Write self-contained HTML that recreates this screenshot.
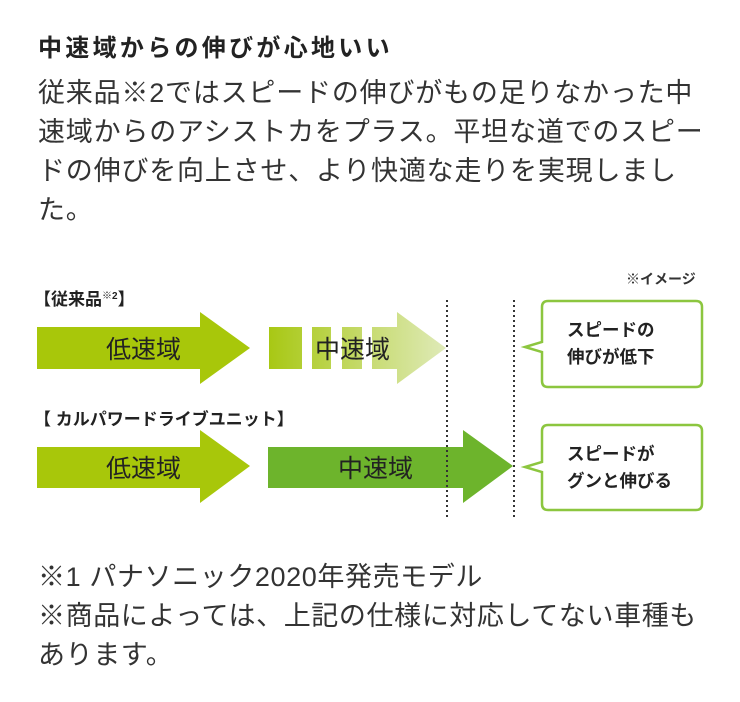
<!DOCTYPE html>
<html><head><meta charset="utf-8"><style>
body{margin:0;width:740px;height:702px;background:#fff;font-family:"Liberation Sans","Noto Sans CJK JP",sans-serif;color:#333;position:relative;overflow:hidden}
.t{position:absolute;left:38px;top:28px;font-size:24px;font-weight:bold;letter-spacing:3.3px;color:#222;white-space:nowrap}
.b{position:absolute;left:38px;top:74px;font-size:27px;line-height:39px;letter-spacing:0.8px;white-space:nowrap}
.f{position:absolute;left:38px;top:558px;font-size:27px;line-height:39px;letter-spacing:0.6px;white-space:nowrap}
</style></head><body>
<div class="t">中速域からの伸びが心地いい</div>
<div class="b">従来品※2ではスピードの伸びがもの足りなかった中<br>速域からのアシストカをプラス。平坦な道でのスピー<br>ドの伸びを向上させ、より快適な走りを実現しまし<br>た。</div>
<svg width="740" height="702" style="position:absolute;left:0;top:0" font-family="Liberation Sans, Noto Sans CJK JP, sans-serif">
<defs><linearGradient id="g" x1="269" x2="446" gradientUnits="userSpaceOnUse"><stop offset="0" stop-color="#a8c814"/><stop offset="1" stop-color="#dfeab8"/></linearGradient></defs>
<text x="34" y="305" font-size="17" font-weight="bold" fill="#222">【従来品<tspan font-size="10" dy="-6">※2</tspan><tspan dy="6">】</tspan></text>
<text x="34" y="425" font-size="17" font-weight="bold" fill="#222">【 カルパワードライブユニット】</text>
<text x="626" y="284" font-size="14" font-weight="bold" fill="#333">※イメージ</text>
<polygon points="37,327 200,327 200,312 250,348 200,384 200,369 37,369" fill="#a8c70a"/>
<g fill="url(#g)"><rect x="269" y="327" width="33" height="42"/><rect x="312" y="327" width="19" height="42"/><rect x="342" y="327" width="20" height="42"/><polygon points="372,327 397,327 397,312 446,348 397,384 397,369 372,369"/></g>
<polygon points="37,447 200,447 200,430 250,466 200,503 200,488 37,488" fill="#a8c70a"/>
<polygon points="268,447 463,447 463,430 513,466 463,503 463,488 268,488" fill="#6db42c"/>
<g font-size="25" fill="#222"><text x="106" y="358">低速域</text><text x="315" y="358">中速域</text><text x="106" y="477">低速域</text><text x="338" y="477">中速域</text></g>
<line x1="447" y1="300" x2="447" y2="520" stroke="#333" stroke-width="2" stroke-dasharray="2,3"/>
<line x1="514" y1="300" x2="514" y2="520" stroke="#333" stroke-width="2" stroke-dasharray="2,3"/>
<path d="M548,301 H696 Q702,301 702,307 V381 Q702,387 696,387 H548 Q542,387 542,381 V352 L525,347 L542,342 V307 Q542,301 548,301Z" fill="#fff" stroke="#8cc63f" stroke-width="2.5"/>
<path d="M548,425 H696 Q702,425 702,431 V504 Q702,510 696,510 H548 Q542,510 542,504 V472 L525,467 L542,462 V431 Q542,425 548,425Z" fill="#fff" stroke="#8cc63f" stroke-width="2.5"/>
<g font-size="17.5" font-weight="bold" fill="#222"><text x="567" y="336">スピードの</text><text x="567" y="363">伸びが低下</text><text x="567" y="460">スピードが</text><text x="567" y="487">グンと伸びる</text></g>
</svg>
<div class="f">※1 パナソニック2020年発売モデル<br>※商品によっては、上記の仕様に対応してない車種も<br>あります。</div>
</body></html>
